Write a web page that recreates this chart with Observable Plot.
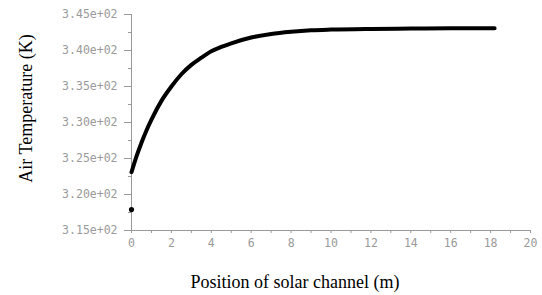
<!DOCTYPE html>
<html>
<head>
<meta charset="utf-8">
<script src="https://cdn.jsdelivr.net/npm/d3@7"></script>
<script src="https://cdn.jsdelivr.net/npm/@observablehq/plot@0.6"></script>
<style>
  html, body { margin: 0; padding: 0; background: #fff; }
</style>
</head>
<body>
<div id="chart"></div>
<script>
// Position along channel (m) and air temperature (K)
const positions = [0, 0.25, 0.5, 0.75, 1, 1.5, 2, 2.5, 3, 3.5, 4, 4.5, 5, 6, 7, 8, 9, 10, 12, 14, 16, 18.2];
const temperatures = [323.1, 325.3, 327.2, 328.9, 330.4, 333.0, 335.0, 336.7, 338.0, 339.0, 339.9, 340.5, 341.0, 341.8, 342.3, 342.6, 342.8, 342.9, 343.0, 343.05, 343.1, 343.1];
// Isolated inlet point
const inletX = [0];
const inletT = [317.9];

const yMajor = [315, 320, 325, 330, 335, 340, 345];
const yMinor = [317.5, 322.5, 327.5, 332.5, 337.5, 342.5];
const xMajor = [0, 2, 4, 6, 8, 10, 12, 14, 16, 18, 20];
const xMinor = [1, 3, 5, 7, 9, 11, 13, 15, 17, 19];
const xTitle = "Position of solar channel (m)";
const yTitle = "Air Temperature (K)";

const curve = positions.map((x, i) => ({x, t: temperatures[i]}));
const inlet = inletX.map((x, i) => ({x, t: inletT[i]}));

const fmt = d => (d / 100).toFixed(2) + "e+02";
const axisStyle = {fontFamily: "DejaVu Sans Mono", fontSize: 11.5, fill: "#9a9a9a", stroke: "#9a9a9a"};

const chart = Plot.plot({
  width: 542,
  height: 295,
  marginLeft: 131,
  marginRight: 12,
  marginTop: 14,
  marginBottom: 65,
  style: {background: "#fff"},
  x: {domain: [0, 20]},
  y: {domain: [315, 345]},
  marks: [
    Plot.ruleX([0], {stroke: "#9a9a9a", strokeWidth: 1}),
    Plot.ruleY([315], {stroke: "#9a9a9a", strokeWidth: 1}),
    Plot.axisY({ticks: yMajor, tickSize: 7, tickPadding: 7, tickFormat: fmt, label: null, ...axisStyle}),
    Plot.axisY({ticks: yMinor, tickSize: 3, tickFormat: () => "", label: null, stroke: "#9a9a9a"}),
    Plot.axisX({ticks: xMajor, tickSize: 3, tickPadding: 5, tickFormat: d => String(d), label: null, ...axisStyle}),
    Plot.axisX({ticks: xMinor, tickSize: 3, tickFormat: () => "", label: null, stroke: "#9a9a9a"}),
    Plot.line(curve, {x: "x", y: "t", stroke: "#000", strokeWidth: 4, strokeLinecap: "round", curve: "monotone-x"}),
    Plot.dot(inlet, {x: "x", y: "t", r: 2.6, fill: "#000"}),
    Plot.text([yTitle], {frameAnchor: "left", textAnchor: "middle", rotate: -90, dx: -105, dy: -14, fontFamily: "Liberation Serif", fontSize: 18, fill: "#000", lineAnchor: "middle"}),
    Plot.text([xTitle], {frameAnchor: "bottom", textAnchor: "middle", dx: -36, dy: 52, fontFamily: "Liberation Serif", fontSize: 18, fill: "#000", lineAnchor: "middle"})
  ]
});
document.getElementById("chart").appendChild(chart);
</script>
</body>
</html>
